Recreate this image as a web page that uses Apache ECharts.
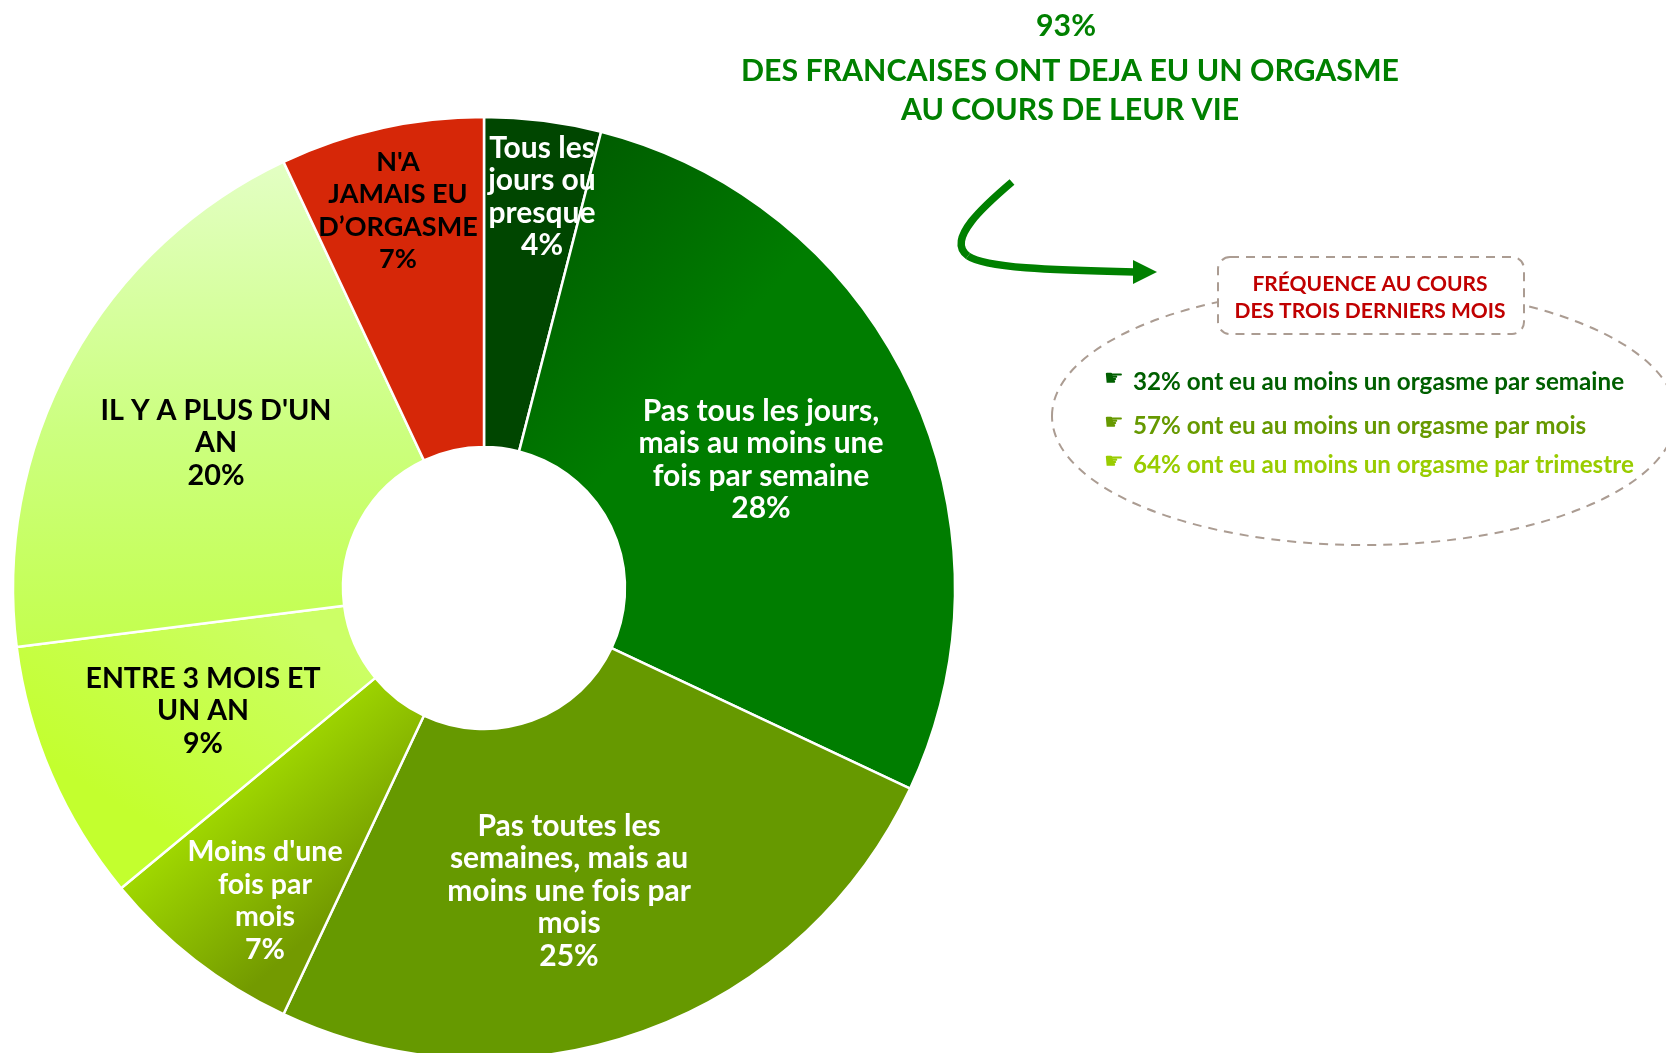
<!DOCTYPE html>
<html><head><meta charset="utf-8">
<style>html,body{margin:0;padding:0;background:#fff;overflow:hidden}#c{width:1666px;height:1053px}</style>
<script src="https://cdn.jsdelivr.net/npm/echarts@6/dist/echarts.min.js"></script></head>
<body><div id="c"></div>
<script>
const categories = ["Tous les\njours ou\npresque","Pas tous les jours,\nmais au moins une\nfois par semaine","Pas toutes les\nsemaines, mais au\nmoins une fois par\nmois","Moins d'une\nfois par\nmois","ENTRE 3 MOIS ET\nUN AN","IL Y A PLUS D'UN\nAN","N'A\nJAMAIS EU\nD’ORGASME"];
const values = [4,28,25,7,9,20,7];
const labelColors = ["#fff","#fff","#fff","#fff","#000","#000","#000"];
const labelSizes = [30,30,30,28.5,28.5,28.8,27];
const labelCenters = [[542,197],[761,460],[569,891],[265,901],[203,711],[216,443],[398,211]];
const FONT = 'Lato,"DejaVu Sans",sans-serif';
const stops=(...c)=>c.map(([offset,color])=>({offset,color}));
const grad=(x,y,x2,y2,...c)=>({type:'linear',x,y,x2,y2,colorStops:stops(...c)});
const fills = ["#004600",grad(0,0,.5,.3,[0,"#005400"],[1,"#007d00"]),"#669900",grad(.3,.3,.7,.7,[0,"#a6e000"],[1,"#739a00"]),grad(.7,0,.35,.75,[0,"#ccff66"],[1,"#c3ff2e"]),grad(0,0,0,1,[0,"#e3ffc4"],[.55,"#ccff80"],[1,"#c3ff4d"]),"#d62708"];
const freqLines = ["32% ont eu au moins un orgasme par semaine","57% ont eu au moins un orgasme par mois","64% ont eu au moins un orgasme par trimestre"];
const freqColors = ["#005f00","#669900","#99cc00"];
const freqY = [382,426,465];
const titleLines = ["93%","DES FRANCAISES ONT DEJA EU UN ORGASME","AU COURS DE LEUR VIE"];
const titleX=[1066,1070,1070], titleY=[26,71,110];
const txt=(x,y,t,fill,size,extra)=>({type:'text',x,y,z:10,style:Object.assign({text:t,fill,font:'bold '+size+'px '+FONT,align:'center',verticalAlign:'middle'},extra||{})});
const graphics=[
 {type:'ellipse',shape:{cx:1364,cy:416,rx:312,ry:129},style:{fill:'none',stroke:'#ab9c92',lineWidth:2,lineDash:[9,7]},z:5},
 {type:'rect',shape:{x:1218,y:257,width:306,height:77,r:12},style:{fill:'#fff',stroke:'#ab9c92',lineWidth:2,lineDash:[9,7]},z:6},
 {type:'bezierCurve',shape:{x1:1012,y1:182,cpx1:985,cpy1:205,cpx2:945,cpy2:240,x2:968,y2:256},style:{stroke:'#008000',lineWidth:7.5,fill:'none'},z:7},
 {type:'bezierCurve',shape:{x1:968,y1:256,cpx1:985,cpy1:268,cpx2:1050,cpy2:270,x2:1135,y2:272},style:{stroke:'#008000',lineWidth:7.5,fill:'none'},z:7},
 {type:'polygon',shape:{points:[[1133,260],[1157,272],[1133,284]]},style:{fill:'#008000'},z:7},
 txt(1370,284,"FRÉQUENCE AU COURS","#c00000",21),
 txt(1370,311,"DES TROIS DERNIERS MOIS","#c00000",21)
];
titleLines.forEach((t,i)=>graphics.push(txt(titleX[i],titleY[i],t,"#008000",30.3)));
freqLines.forEach((t,i)=>{
 graphics.push(txt(1133,freqY[i],t,freqColors[i],24.2,{align:'left'}));
 graphics.push(txt(1104,freqY[i]-3,"☛",freqColors[i],22,{align:'left',font:'bold 22px "DejaVu Sans"'}));
});
const chart=echarts.init(document.getElementById('c'),null,{renderer:'canvas',width:1666,height:1053});
chart.setOption({
 animation:false,
 backgroundColor:'#fff',
 graphic:graphics,
 series:[{
  type:'pie',
  center:[484,588],
  radius:[141,471],
  startAngle:90,
  clockwise:true,
  avoidLabelOverlap:false,
  silent:true,
  itemStyle:{borderColor:'#fff',borderWidth:2.5},
  label:{show:true,position:'inside',formatter:'{b}\n{d}%',fontFamily:FONT,fontWeight:'bold',lineHeight:32.5,align:'center'},
  labelLine:{show:false},
  labelLayout:p=>({x:labelCenters[p.dataIndex][0],y:labelCenters[p.dataIndex][1],align:'center',verticalAlign:'middle'}),
  data:categories.map((name,i)=>({name,value:values[i],itemStyle:{color:fills[i]},label:{color:labelColors[i],fontSize:labelSizes[i]}}))
 }]
});
</script></body></html>
